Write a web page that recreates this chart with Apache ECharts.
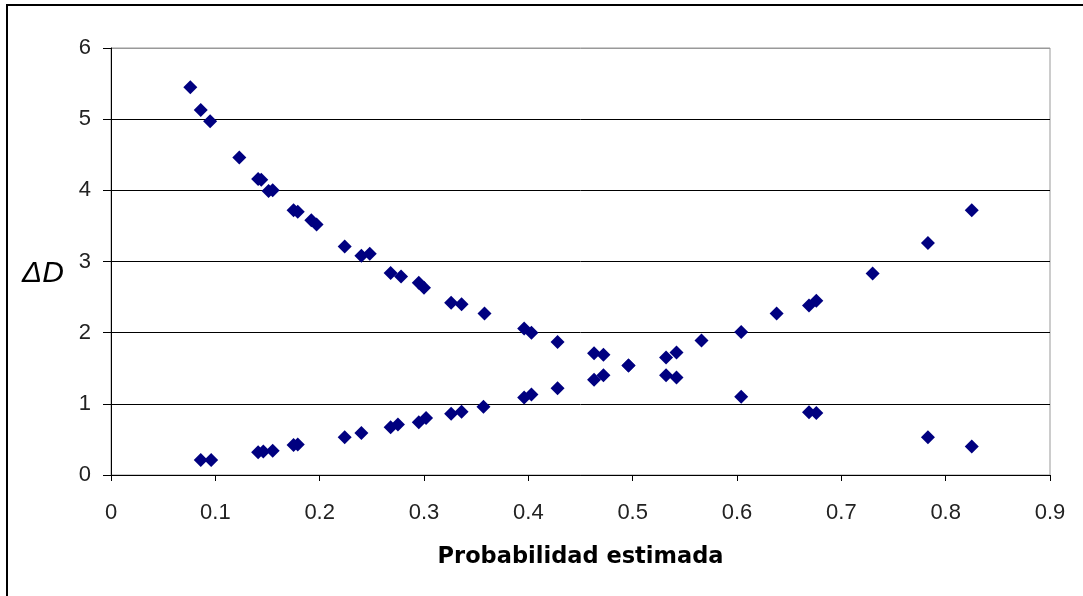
<!DOCTYPE html>
<html>
<head>
<meta charset="utf-8">
<script src="https://cdn.jsdelivr.net/npm/echarts@6/dist/echarts.min.js"></script>
<style>
html,body{margin:0;padding:0;background:#fff;}
#chart{width:1083px;height:596px;}
</style>
</head>
<body>
<div id="chart"></div>
<script>
// Decreasing curve
const decX = [0.076, 0.086, 0.095, 0.123, 0.141, 0.144, 0.151, 0.155, 0.175, 0.179, 0.192, 0.197, 0.224, 0.240, 0.248, 0.268, 0.278, 0.295, 0.300, 0.326, 0.336, 0.358, 0.396, 0.403, 0.428, 0.463, 0.472, 0.496, 0.532, 0.542, 0.604, 0.669, 0.676, 0.783, 0.825];
const decY = [5.45, 5.13, 4.97, 4.46, 4.16, 4.15, 3.99, 4.00, 3.72, 3.70, 3.58, 3.52, 3.21, 3.08, 3.11, 2.84, 2.79, 2.70, 2.63, 2.42, 2.40, 2.27, 2.06, 2.00, 1.87, 1.71, 1.69, 1.54, 1.40, 1.37, 1.10, 0.88, 0.87, 0.53, 0.40];
// Increasing curve
const incX = [0.086, 0.096, 0.141, 0.146, 0.155, 0.175, 0.179, 0.224, 0.240, 0.268, 0.275, 0.295, 0.302, 0.326, 0.336, 0.357, 0.396, 0.403, 0.428, 0.463, 0.472, 0.496, 0.532, 0.542, 0.566, 0.604, 0.638, 0.669, 0.676, 0.730, 0.783, 0.825];
const incY = [0.21, 0.21, 0.32, 0.33, 0.34, 0.42, 0.43, 0.53, 0.59, 0.67, 0.71, 0.74, 0.80, 0.86, 0.89, 0.96, 1.09, 1.13, 1.22, 1.34, 1.40, 1.54, 1.65, 1.72, 1.89, 2.01, 2.27, 2.38, 2.45, 2.83, 3.26, 3.72];

const xTicks = ['0', '0.1', '0.2', '0.3', '0.4', '0.5', '0.6', '0.7', '0.8', '0.9'];
const yTicks = ['0', '1', '2', '3', '4', '5', '6'];
const xTitle = 'Probabilidad estimada';
const yTitle = 'ΔD';

const zip = (xs, ys) => xs.map((x, i) => [x, ys[i]]);

const chart = echarts.init(document.getElementById('chart'), null, {renderer: 'canvas'});
const labelFont = {fontFamily: 'Arial, "Liberation Sans", sans-serif', fontSize: 22, color: '#222'};

chart.setOption({
  animation: false,
  backgroundColor: '#fff',
  grid: {left: 111, right: 33, top: 48, bottom: 121, show: true, borderColor: '#999', borderWidth: 1, backgroundColor: 'transparent'},
  graphic: [
    {type: 'rect', shape: {x: 7, y: 5, width: 1200, height: 800}, style: {fill: 'none', stroke: '#000', lineWidth: 2}, silent: true},
    {type: 'text', left: 22, top: 259, style: {text: yTitle, font: 'italic 30px Arial, "Liberation Sans", sans-serif', fill: '#000'}}
  ],
  xAxis: {
    type: 'value', min: 0, max: 0.9, interval: 0.1,
    axisLine: {show: true, onZero: false, lineStyle: {color: '#000', width: 1}},
    axisTick: {show: true, inside: false, length: 6, lineStyle: {color: '#000'}},
    axisLabel: Object.assign({margin: 27, formatter: (v) => xTicks[Math.round(v * 10)]}, labelFont),
    splitLine: {show: false},
    name: xTitle, nameLocation: 'middle', nameGap: 71,
    nameTextStyle: {fontFamily: '"DejaVu Sans", sans-serif', fontWeight: 'bold', fontSize: 22.5, color: '#000'}
  },
  yAxis: {
    type: 'value', min: 0, max: 6, interval: 1,
    axisLine: {show: true, lineStyle: {color: '#000', width: 1}},
    axisTick: {show: true, inside: false, length: 8, lineStyle: {color: '#000'}},
    axisLabel: Object.assign({margin: 20, formatter: (v) => yTicks[Math.round(v)]}, labelFont),
    splitLine: {show: true, lineStyle: {color: ['#000', '#000', '#000', '#000', '#000', '#000', '#999'], width: 1}}
  },
  series: [
    {type: 'scatter', name: 'dec', data: zip(decX, decY), symbol: 'diamond', symbolSize: 14, itemStyle: {color: '#000080', opacity: 1}},
    {type: 'scatter', name: 'inc', data: zip(incX, incY), symbol: 'diamond', symbolSize: 14, itemStyle: {color: '#000080', opacity: 1}}
  ]
});
</script>
</body>
</html>
